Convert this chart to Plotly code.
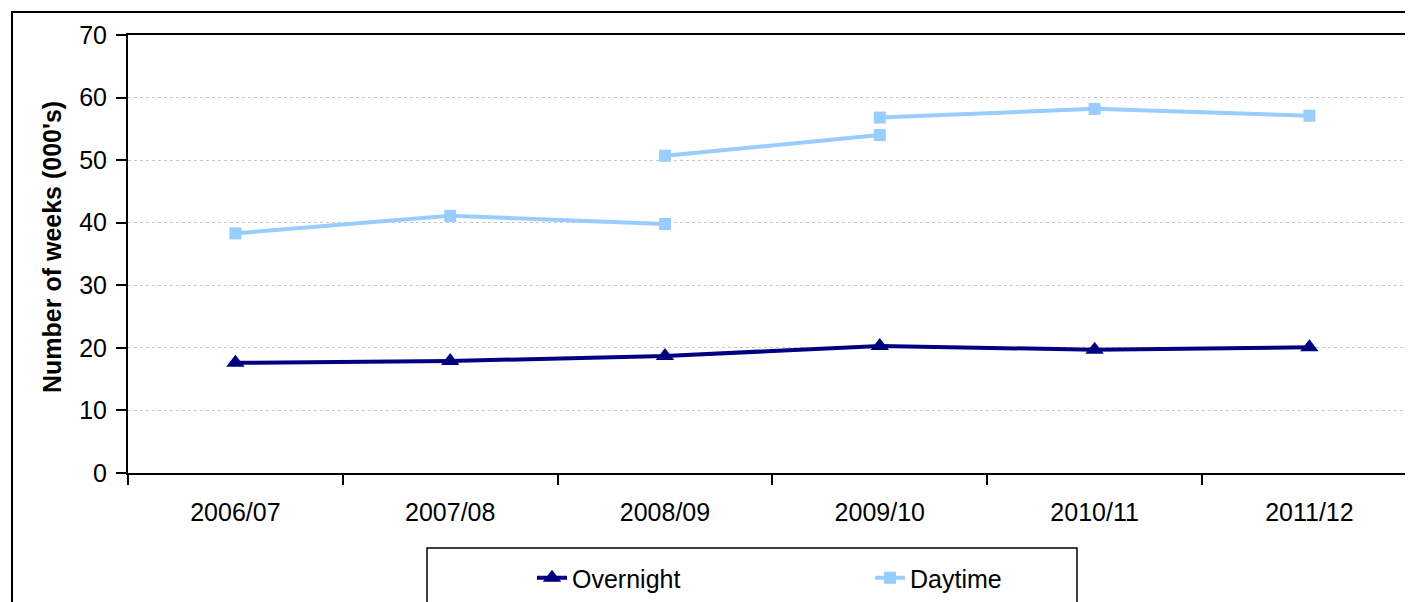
import plotly.graph_objects as go

categories = ["2006/07", "2007/08", "2008/09", "2009/10", "2010/11", "2011/12"]
overnight = [17.6, 17.9, 18.7, 20.3, 19.7, 20.1]
# Daytime series is drawn in three separate runs (breaks in the series)
daytime_x1 = ["2006/07", "2007/08", "2008/09"]
daytime_y1 = [38.3, 41.1, 39.8]
daytime_x2 = ["2008/09", "2009/10"]
daytime_y2 = [50.7, 54.0]
daytime_x3 = ["2009/10", "2010/11", "2011/12"]
daytime_y3 = [56.8, 58.2, 57.1]
y_ticks = [0, 10, 20, 30, 40, 50, 60, 70]

OFF = 8  # page offset of the figure inside the window
W, H = 1413 - OFF, 602 - OFF
L, R, T, B = 128 - OFF, 0, 35 - OFF, 129
PW = W - L - R
PH = H - T - B

# helpers converting window-pixel positions to paper coordinates
def px_x(p):
    return (p - OFF - L) / PW

def px_y(p):
    return (H + OFF - B - p) / PH

FONT = "Liberation Sans, Arial, sans-serif"
FS = 25

dx = daytime_x1 + [None] + daytime_x2 + [None] + daytime_x3
dy = daytime_y1 + [None] + daytime_y2 + [None] + daytime_y3

fig = go.Figure()
fig.add_trace(go.Scatter(
    x=categories, y=overnight, name="Overnight", mode="lines+markers",
    line=dict(color="#000080", width=4),
    marker=dict(symbol="triangle-up", size=16, color="#000080"),
))
fig.add_trace(go.Scatter(
    x=dx, y=dy, name="Daytime", mode="lines+markers", connectgaps=False,
    line=dict(color="#99CCFF", width=4),
    marker=dict(symbol="square", size=12, color="#99CCFF"),
))

fig.update_layout(
    width=W, height=H,
    margin=dict(l=L, r=R, t=T, b=B),
    paper_bgcolor="white", plot_bgcolor="white",
    font=dict(family=FONT, size=FS, color="black"),
    showlegend=True,
    legend=dict(
        orientation="h", x=px_x(532), xanchor="left", y=px_y(555), yanchor="top",
        borderwidth=0, bgcolor="rgba(0,0,0,0)",
        entrywidth=293, entrywidthmode="pixels",
        font=dict(family=FONT, size=FS, color="black"),
        traceorder="normal",
    ),
    xaxis=dict(
        type="category", categoryorder="array", categoryarray=categories,
        range=[-0.5, -0.5 + PW / 214.8],
        showline=True, linecolor="black", linewidth=2, mirror=True,
        ticks="outside", ticklen=10, tickwidth=1.5, tickcolor="black",
        tickson="boundaries", showgrid=False, zeroline=False,
        tickfont=dict(family=FONT, size=FS, color="black"),
        ticklabelstandoff=16,
    ),
    yaxis=dict(
        range=[0, 70], tickvals=y_ticks, ticktext=[str(v) for v in y_ticks],
        showline=True, linecolor="black", linewidth=2,
        ticks="outside", ticklen=10, tickwidth=1.5, tickcolor="black",
        showgrid=True, gridcolor="#c8c8c8", gridwidth=1, griddash="dot",
        zeroline=False,
        tickfont=dict(family=FONT, size=FS, color="black"),
        ticklabelstandoff=4,
    ),
    annotations=[dict(
        text="<b>Number of weeks (000's)</b>", textangle=-90,
        xref="paper", yref="paper", x=px_x(52), y=px_y(247),
        xanchor="center", yanchor="middle", showarrow=False,
        font=dict(family=FONT, size=FS, color="black"),
    )],
    shapes=[
        dict(type="rect", xref="paper", yref="paper",
             x0=px_x(12), x1=px_x(1430), y0=px_y(625), y1=px_y(12),
             line=dict(color="black", width=2), fillcolor="rgba(0,0,0,0)", layer="below"),
        dict(type="rect", xref="paper", yref="paper",
             x0=px_x(427), x1=px_x(1077), y0=px_y(625), y1=px_y(548),
             line=dict(color="black", width=1.5), fillcolor="rgba(0,0,0,0)", layer="below"),
    ],
)

fig.write_html("out.html")
